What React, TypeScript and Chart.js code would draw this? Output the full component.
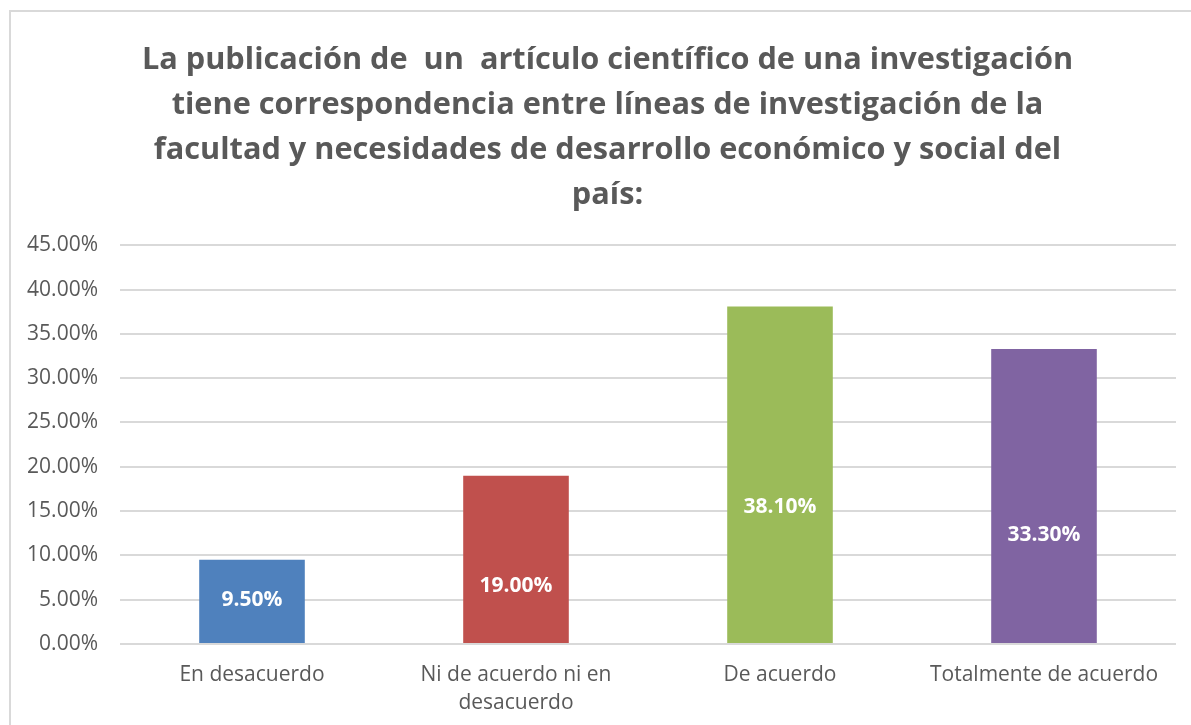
import React, { useEffect, useRef } from "react";
import { Chart, registerables } from "chart.js";

Chart.register(...registerables);

const categories: (string | string[])[] = [
  "En desacuerdo",
  ["Ni de acuerdo ni en", "desacuerdo"],
  "De acuerdo",
  "Totalmente de acuerdo",
];
const values: number[] = [0.095, 0.19, 0.381, 0.333];
const barColors: string[] = ["#4f81bd", "#c0504d", "#9bbb59", "#8064a2"];
const titleLines: string[] = [
  "La publicación de  un  artículo científico de una investigación",
  "tiene correspondencia entre líneas de investigación de la",
  "facultad y necesidades de desarrollo económico y social del",
  "país:",
];

const FONT = "'Open Sans', Lato, sans-serif";
// where each value label sits, as a fraction of its bar's height (from the base)
const LABEL_FRACTION = [0.515, 0.343, 0.405, 0.368];

const framePlugin = {
  id: "frame",
  beforeDraw(chart: any) {
    const ctx = chart.ctx;
    ctx.save();
    ctx.fillStyle = "#ffffff";
    ctx.fillRect(0, 0, chart.width, chart.height);
    ctx.strokeStyle = "#d9d9d9";
    ctx.lineWidth = 2;
    ctx.strokeRect(10, 11, chart.width + 20, chart.height + 20);
    ctx.restore();
  },
};

// shift the title block so it is centred like the reference
const titleShiftPlugin = {
  id: "titleShift",
  afterLayout(chart: any) {
    const tb = chart.titleBlock;
    if (tb) {
      tb.left += 15;
      tb.right += 15;
    }
  },
};

const labelPlugin = {
  id: "barLabels",
  afterDatasetsDraw(chart: any) {
    const ctx = chart.ctx;
    const meta = chart.getDatasetMeta(0);
    ctx.save();
    ctx.fillStyle = "#ffffff";
    ctx.font = `bold 21px ${FONT}`;
    ctx.textAlign = "center";
    ctx.textBaseline = "middle";
    meta.data.forEach((bar: any, i: number) => {
      const f = LABEL_FRACTION[i] ?? 0.5;
      const y = bar.base + (bar.y - bar.base) * f;
      ctx.fillText((values[i] * 100).toFixed(2) + "%", bar.x, y);
    });
    ctx.restore();
  },
};

export default function App() {
  const ref = useRef<HTMLCanvasElement>(null);
  useEffect(() => {
    if (!ref.current) return;
    const chart = new Chart(ref.current, {
      type: "bar",
      data: {
        labels: categories,
        datasets: [
          {
            data: values,
            backgroundColor: barColors,
            barPercentage: 0.8,
            categoryPercentage: 0.5,
          },
        ],
      },
      options: {
        animation: false,
        responsive: false,
        layout: { padding: { left: 9, right: 15, top: 0, bottom: 0 } },
        plugins: {
          legend: { display: false },
          tooltip: { enabled: false },
          title: {
            display: true,
            text: titleLines,
            color: "#595959",
            font: { family: FONT, size: 30.7, weight: "bold", lineHeight: 1.46 },
            padding: { top: 38, bottom: 28 },
          },
        },
        scales: {
          x: {
            grid: { display: false, drawTicks: false },
            border: { display: false },
            ticks: {
              color: "#595959",
              font: { family: FONT, size: 21, lineHeight: 1.33 },
              padding: 17,
              maxRotation: 0,
              autoSkip: false,
            },
            afterFit(scale: any) {
              scale.height = 81;
            },
          },
          y: {
            min: 0,
            max: 0.45,
            grid: { color: "#d9d9d9", lineWidth: 2, drawTicks: false },
            border: { display: false },
            ticks: {
              stepSize: 0.05,
              color: "#595959",
              font: { family: FONT, size: 21 },
              padding: 22,
              callback: (v: any) => (Number(v) * 100).toFixed(2) + "%",
            },
            afterFit(scale: any) {
              scale.width = 111;
            },
          },
        },
      },
      plugins: [framePlugin, titleShiftPlugin, labelPlugin],
    });
    return () => chart.destroy();
  }, []);
  return (
    <canvas
      ref={ref}
      width={1191}
      height={725}
      style={{ position: "fixed", left: 0, top: 0, width: 1191, height: 725 }}
    />
  );
}
